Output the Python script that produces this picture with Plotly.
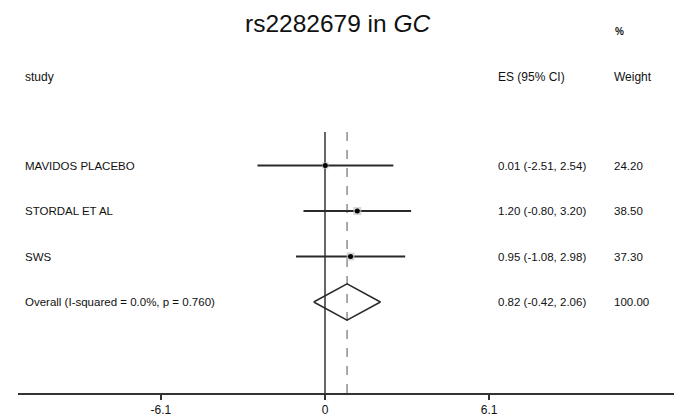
import plotly.graph_objects as go

# ---- data ----
studies = ["MAVIDOS PLACEBO", "STORDAL ET AL", "SWS"]
es = [0.01, 1.20, 0.95]
ci_lo = [-2.51, -0.80, -1.08]
ci_hi = [2.54, 3.20, 2.98]
weights = [24.20, 38.50, 37.30]
overall_label = "Overall (I-squared = 0.0%, p = 0.760)"
overall_es = 0.82
overall_lo = -0.42
overall_hi = 2.06
overall_weight = 100.00
tick_vals = [-6.1, 0, 6.1]
tick_text = ["-6.1", "0", "6.1"]

FONT = "Liberation Sans, Arial, sans-serif"
W, H = 674, 419

# layout geometry (pixels)
px0 = 325.0          # pixel of x = 0
ppu = 26.9           # pixels per unit
ax_left = 18.0
row0_px = 165.5
row_step = 45.5
axis_px = 393.0

x_lo = (ax_left - px0) / ppu
x_hi = (W - px0) / ppu
y_top = (0 - row0_px) / row_step
y_bot = (axis_px - row0_px) / row_step

def px_to_x(p):
    return (p - px0) / ppu

def py_to_y(p):
    return (p - row0_px) / row_step

n = len(studies)
rows = list(range(n))
overall_row = n

fig = go.Figure()

# CI lines
xs, ys = [], []
for i in rows:
    xs += [ci_lo[i], ci_hi[i], None]
    ys += [i, i, None]
fig.add_trace(go.Scatter(x=xs, y=ys, mode="lines",
                         line=dict(color="#2a2a2a", width=2), hoverinfo="skip"))

# weight boxes
fig.add_trace(go.Scatter(x=es, y=rows, mode="markers",
                         marker=dict(symbol="square", color="#c4c4c4",
                                     size=[8 * (w / max(weights)) ** 0.5 for w in weights],
                                     line=dict(width=0)),
                         hoverinfo="skip"))
# point estimates
fig.add_trace(go.Scatter(x=es, y=rows, mode="markers",
                         marker=dict(symbol="circle", color="black", size=5),
                         hoverinfo="skip"))

# diamond
dh = 0.4
fig.add_trace(go.Scatter(
    x=[overall_lo, overall_es, overall_hi, overall_es, overall_lo],
    y=[overall_row, overall_row - dh, overall_row, overall_row + dh, overall_row],
    mode="lines", line=dict(color="#2a2a2a", width=1.5), hoverinfo="skip"))

line_top = py_to_y(132)
# null line
fig.add_shape(type="line", xref="x", yref="y", x0=0, x1=0, y0=line_top, y1=y_bot,
              line=dict(color="black", width=1.2), layer="below")
# overall dashed line
fig.add_shape(type="line", xref="x", yref="y", x0=overall_es, x1=overall_es,
              y0=line_top, y1=y_bot,
              line=dict(color="#555555", width=1, dash="dash"), layer="below")

ann = []
def txt(x, y, s, size=11.5, anchor="left", family=FONT):
    ann.append(dict(x=x, y=y, xref="x", yref="y", text=s, showarrow=False,
                    xanchor=anchor, yanchor="middle",
                    font=dict(family=family, size=size, color="#111111")))

lab_x = px_to_x(23)
es_x = px_to_x(496)
wt_x = px_to_x(612)

for i in rows:
    txt(lab_x, i, studies[i])
    txt(es_x, i, f"{es[i]:.2f} ({ci_lo[i]:.2f}, {ci_hi[i]:.2f})")
    txt(wt_x, i, f"{weights[i]:.2f}")
txt(lab_x, overall_row, overall_label)
txt(es_x, overall_row, f"{overall_es:.2f} ({overall_lo:.2f}, {overall_hi:.2f})")
txt(wt_x, overall_row, f"{overall_weight:.2f}")

# headers
hdr_y = py_to_y(77)
txt(lab_x, hdr_y, "study", size=12)
txt(es_x, hdr_y, "ES (95% CI)", size=12)
txt(wt_x, hdr_y, "Weight", size=12)
txt(px_to_x(613), py_to_y(31), "<b>%</b>", size=10)

# title
ann.append(dict(x=338 / W, y=1 - 23 / H, xref="paper", yref="paper",
                text="rs2282679 in <i>GC</i>", showarrow=False,
                xanchor="center", yanchor="middle",
                font=dict(family=FONT, size=24.5, color="#111111")))

fig.update_layout(
    width=W, height=H,
    margin=dict(l=0, r=0, t=0, b=0),
    paper_bgcolor="white", plot_bgcolor="white",
    showlegend=False,
    annotations=ann,
    xaxis=dict(domain=[ax_left / W, 1], range=[x_lo, x_hi],
               tickvals=tick_vals, ticktext=tick_text,
               ticks="outside", ticklen=5, tickwidth=1.5, tickcolor="#333333",
               showline=True, linecolor="#333333", linewidth=2,
               showgrid=False, zeroline=False,
               tickfont=dict(family=FONT, size=12, color="#111111"),
               fixedrange=True),
    yaxis=dict(domain=[(H - axis_px) / H, 1], range=[y_bot, y_top],
               visible=False, showgrid=False, zeroline=False, fixedrange=True),
)

fig.write_html("out.html")
